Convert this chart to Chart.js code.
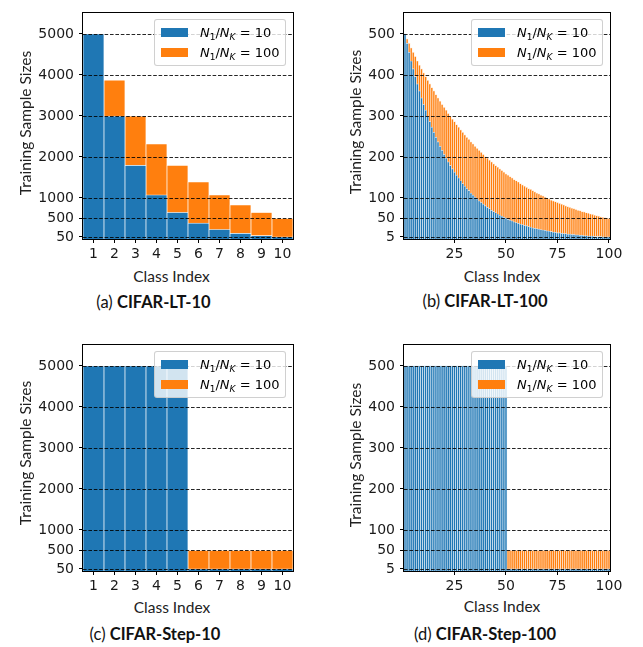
<!DOCTYPE html>
<html><head><meta charset="utf-8">
<script src="https://cdn.jsdelivr.net/npm/chart.js@4.4.1/dist/chart.umd.min.js"></script>
<style>
html,body{margin:0;padding:0;background:#fff;}
body{width:643px;height:647px;position:relative;overflow:hidden;}
canvas{position:absolute;}
.ax{position:absolute;font-family:Lato,sans-serif;font-size:15.5px;color:#222;transform:translate(-50%,-50%);white-space:nowrap;}
.ax.rot{transform:translate(-50%,-50%) rotate(-90deg);}
.cap{position:absolute;font-family:Lato,sans-serif;font-size:16.5px;color:#111;transform:translate(-50%,-50%);white-space:nowrap;}
.cap b{font-weight:700;}
.leg{position:absolute;background:rgba(255,255,255,0.8);border:1px solid rgba(200,200,200,0.85);border-radius:3px;padding:2px 6px 3px 6px;font-family:'DejaVu Sans',sans-serif;font-size:13px;color:#000;}
.leg .row{height:20px;display:flex;align-items:center;white-space:nowrap;}
.leg .patch{display:inline-block;width:27px;height:9px;margin-right:12px;}
.leg sub{font-size:9px;vertical-align:-3px;line-height:0;}
</style>
</head><body>
<canvas id="cA" width="320" height="265" style="left:0;top:0"></canvas>
<canvas id="cB" width="323" height="265" style="left:320px;top:0"></canvas>
<canvas id="cC" width="320" height="265" style="left:0;top:332px"></canvas>
<canvas id="cD" width="323" height="265" style="left:320px;top:332px"></canvas>

<div class="ax" style="left:171.5px;top:276px">Class Index</div>
<div class="ax rot" style="left:25px;top:123px">Training Sample Sizes</div>
<div class="cap" style="left:153.5px;top:302px">(a) <b>CIFAR-LT-10</b></div>

<div class="ax" style="left:502px;top:276px">Class Index</div>
<div class="ax rot" style="left:355px;top:122px">Training Sample Sizes</div>
<div class="cap" style="left:485px;top:301px">(b) <b>CIFAR-LT-100</b></div>

<div class="ax" style="left:172px;top:607px">Class Index</div>
<div class="ax rot" style="left:25px;top:453px">Training Sample Sizes</div>
<div class="cap" style="left:155px;top:634px">(c) <b>CIFAR-Step-10</b></div>

<div class="ax" style="left:502px;top:606px">Class Index</div>
<div class="ax rot" style="left:355px;top:455px">Training Sample Sizes</div>
<div class="cap" style="left:485px;top:634px">(d) <b>CIFAR-Step-100</b></div>

<script>
// ---------- data ----------
const legendRatios = ['10', '100'];           // N1/NK legend values (blue, orange)
const classIdx10 = ['1','2','3','4','5','6','7','8','9','10'];
const classIdx100 = Array.from({length: 100}, (_, i) => String(i + 1));
const xTickLabels100 = ['25', '50', '75', '100'];
const yTicks10 = [50, 500, 1000, 2000, 3000, 4000, 5000];
const yTicks100 = [5, 50, 100, 200, 300, 400, 500];
const yMax10 = 5500;
const yMax100 = 550;

// (a) CIFAR-LT-10
const ltCifar10Blue   = [5000, 2997, 1796, 1077, 646, 387, 232, 139, 83, 50];
const ltCifar10Orange = [5000, 3871, 2997, 2320, 1796, 1391, 1077, 834, 646, 500];

// (b) CIFAR-LT-100
const ltCifar100Blue = [
  500,477,455,434,415,396,378,361,344,328,
  314,299,286,273,260,248,237,226,216,206,
  197,188,179,171,163,156,149,142,135,129,
  123,118,112,107,102,98,93,89,85,81,
  77,74,70,67,64,61,58,56,53,51,
  48,46,44,42,40,38,36,35,33,32,
  30,29,27,26,25,24,23,22,21,20,
  19,18,17,16,15,15,14,13,13,12,
  12,11,11,10,10,9,9,8,8,7,
  7,7,6,6,6,6,5,5,5,5];
const ltCifar100Orange = [
  500,488,477,466,455,445,434,424,415,405,
  396,387,378,369,361,352,344,336,328,321,
  314,306,299,292,286,279,273,266,260,254,
  248,243,237,232,226,221,216,211,206,201,
  197,192,188,183,179,175,171,167,163,159,
  156,152,149,145,142,139,135,132,129,126,
  123,121,118,115,112,110,107,105,102,100,
  98,95,93,91,89,87,85,83,81,79,
  77,75,74,72,70,69,67,66,64,63,
  61,60,58,57,56,54,53,52,51,50];

// (c) CIFAR-Step-10
const stepCifar10Blue   = [5000, 5000, 5000, 5000, 5000, 50, 50, 50, 50, 50];
const stepCifar10Orange = [5000, 5000, 5000, 5000, 5000, 500, 500, 500, 500, 500];

// (d) CIFAR-Step-100
const stepCifar100Blue = [
  500,500,500,500,500,500,500,500,500,500,
  500,500,500,500,500,500,500,500,500,500,
  500,500,500,500,500,500,500,500,500,500,
  500,500,500,500,500,500,500,500,500,500,
  500,500,500,500,500,500,500,500,500,500,
  5,5,5,5,5,5,5,5,5,5,
  5,5,5,5,5,5,5,5,5,5,
  5,5,5,5,5,5,5,5,5,5,
  5,5,5,5,5,5,5,5,5,5,
  5,5,5,5,5,5,5,5,5,5];
const stepCifar100Orange = [
  500,500,500,500,500,500,500,500,500,500,
  500,500,500,500,500,500,500,500,500,500,
  500,500,500,500,500,500,500,500,500,500,
  500,500,500,500,500,500,500,500,500,500,
  500,500,500,500,500,500,500,500,500,500,
  50,50,50,50,50,50,50,50,50,50,
  50,50,50,50,50,50,50,50,50,50,
  50,50,50,50,50,50,50,50,50,50,
  50,50,50,50,50,50,50,50,50,50,
  50,50,50,50,50,50,50,50,50,50];

// ---------- style ----------
const BLUE = '#1f77b4', ORANGE = '#ff7f0e';
const BLUE_EDGE_FINE = '#d4e5f2', ORANGE_EDGE_FINE = '#ffe6d0';
Chart.defaults.font.family = 'DejaVu Sans';
Chart.defaults.font.size = 14;
const TICK_FONT = {family: 'DejaVu Sans', size: 14, style: 'normal', weight: 'normal'};

const gridFramePlugin = {
  id: 'gridFrame',
  afterDatasetsDraw(chart) {
    const {ctx, chartArea: a, scales: {y}} = chart;
    ctx.save();
    ctx.beginPath(); ctx.rect(a.left, a.top, a.right - a.left, a.bottom - a.top); ctx.clip();
    ctx.setLineDash([3.6, 1.8]);
    ctx.lineWidth = 1;
    ctx.strokeStyle = 'rgba(0,0,0,0.85)';
    y.ticks.forEach(t => {
      const py = Math.round(y.getPixelForValue(t.value)) + 0.5;
      ctx.beginPath(); ctx.moveTo(a.left, py); ctx.lineTo(a.right, py); ctx.stroke();
    });
    ctx.restore();
    ctx.save();
    ctx.strokeStyle = '#000'; ctx.lineWidth = 1;
    ctx.strokeRect(Math.round(a.left) - 0.5, Math.round(a.top) - 0.5,
                   Math.round(a.right - a.left) + 1, Math.round(a.bottom - a.top) + 1);
    ctx.restore();
  }
};

function makeChart(id, cfg) {
  const labels = cfg.labels;
  const many = labels.length > 20;
  const isShown = i => !many || xTickLabels100.includes(labels[i]);
  const barOpts = {
    grouped: false,
    categoryPercentage: 1,
    barPercentage: 1,
    borderWidth: many ? 0.7 : 0.7,
    borderSkipped: 'start'
  };
  // orange part is drawn from the top of the blue bar up to its own value
  const orangeRanges = cfg.orange.map((v, i) => [Math.min(cfg.blue[i], v), v]);
  const chart = new Chart(document.getElementById(id), {
    type: 'bar',
    data: {
      labels: labels,
      datasets: [
        Object.assign({label: 'N1/NK = ' + legendRatios[0], data: cfg.blue, backgroundColor: BLUE,
          borderColor: many ? BLUE_EDGE_FINE : 'rgba(255,255,255,0.8)'}, barOpts),
        Object.assign({label: 'N1/NK = ' + legendRatios[1], data: orangeRanges, backgroundColor: ORANGE,
          borderColor: many ? ORANGE_EDGE_FINE : 'rgba(255,255,255,0.8)'}, barOpts)
      ]
    },
    options: {
      responsive: false,
      animation: false,
      devicePixelRatio: 1,
      font: TICK_FONT,
      layout: {autoPadding: false, padding: {left: 0, top: 7, right: cfg.padRight, bottom: 0}},
      plugins: {legend: {display: false}, tooltip: {enabled: false}},
      scales: {
        x: {
          type: 'category',
          offset: true,
          border: {display: false},
          grid: {
            offset: false, drawOnChartArea: false, drawTicks: true, tickLength: 4, lineWidth: 1,
            color: c => isShown(c.index) ? '#000' : 'rgba(0,0,0,0)'
          },
          ticks: {
            autoSkip: false, maxRotation: 0, minRotation: 0, padding: 3,
            font: TICK_FONT, color: '#1a1a1a',
            callback: (v, i) => isShown(i) ? labels[i] : ''
          },
          afterFit: s => { s.height = 26; }
        },
        y: {
          type: 'linear',
          min: 0, max: cfg.yMax,
          border: {display: false},
          grid: {drawOnChartArea: false, drawTicks: true, tickLength: 4, color: '#000', lineWidth: 1},
          ticks: {font: TICK_FONT, color: '#1a1a1a', padding: 5, callback: v => String(v)},
          afterBuildTicks: s => { s.ticks = cfg.yTicks.map(v => ({value: v})); },
          afterFit: s => { s.width = cfg.yWidth; }
        }
      }
    },
    plugins: [gridFramePlugin]
  });
  addLegend(chart, cfg.left, cfg.top);
  return chart;
}

function addLegend(chart, left, top) {
  const a = chart.chartArea;
  const div = document.createElement('div');
  div.className = 'leg';
  chart.data.datasets.forEach((ds, i) => {
    const row = document.createElement('div');
    row.className = 'row';
    row.innerHTML = '<span class="patch" style="background:' + ds.backgroundColor + '"></span>' +
      '<span><i>N</i><sub>1</sub>/<i>N</i><sub><i>K</i></sub> = ' + legendRatios[i] + '</span>';
    div.appendChild(row);
  });
  document.body.appendChild(div);
  div.style.left = (left + a.right - 7 - div.offsetWidth) + 'px';
  div.style.top = (top + a.top + 6) + 'px';
}

makeChart('cA', {labels: classIdx10, blue: ltCifar10Blue, orange: ltCifar10Orange,
  yTicks: yTicks10, yMax: yMax10, yWidth: 83, padRight: 27, left: 0, top: 0});
makeChart('cB', {labels: classIdx100, blue: ltCifar100Blue, orange: ltCifar100Orange,
  yTicks: yTicks100, yMax: yMax100, yWidth: 84, padRight: 33, left: 320, top: 0});
makeChart('cC', {labels: classIdx10, blue: stepCifar10Blue, orange: stepCifar10Orange,
  yTicks: yTicks10, yMax: yMax10, yWidth: 83, padRight: 27, left: 0, top: 332});
makeChart('cD', {labels: classIdx100, blue: stepCifar100Blue, orange: stepCifar100Orange,
  yTicks: yTicks100, yMax: yMax100, yWidth: 84, padRight: 33, left: 320, top: 332});
</script>
</body></html>
